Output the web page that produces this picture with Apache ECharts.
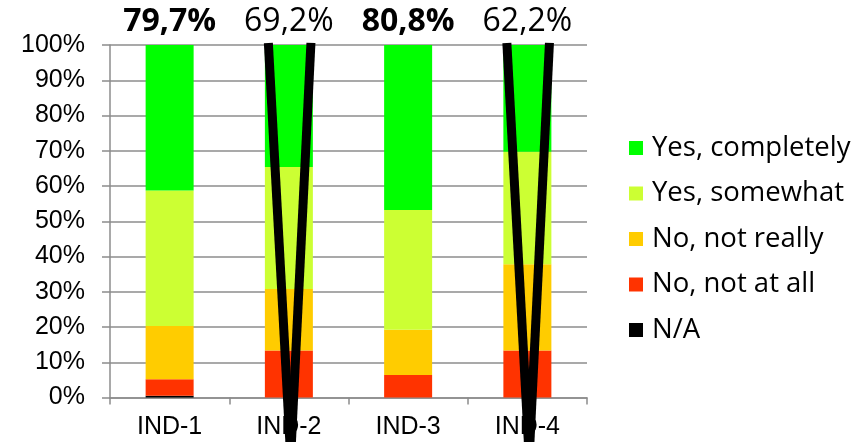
<!DOCTYPE html>
<html>
<head>
<meta charset="utf-8">
<script src="https://cdn.jsdelivr.net/npm/echarts@6/dist/echarts.min.js"></script>
<style>
  html, body { margin: 0; padding: 0; background: #fff; }
  #chart { width: 867px; height: 442px; }
</style>
</head>
<body>
<div id="chart"></div>
<script>
// ---- data ----
const categories = ['IND-1', 'IND-2', 'IND-3', 'IND-4'];
const naValues        = [0.5, 0, 0, 0];
const notAtAllValues  = [4.7, 13.3, 6.4, 13.3];
const notReallyValues = [15.1, 17.5, 12.8, 24.5];
const somewhatValues  = [38.4, 34.6, 34.0, 31.9];
const completelyValues= [41.3, 34.6, 46.8, 30.3];
const yesShareLabels  = ['79,7%', '69,2%', '80,8%', '62,2%'];
const yesShareBold    = [true, false, true, false];
const crossedOut      = ['IND-2', 'IND-4'];
const yTickValues     = [0, 10, 20, 30, 40, 50, 60, 70, 80, 90, 100];
const legendOrder     = ['Yes, completely', 'Yes, somewhat', 'No, not really', 'No, not at all', 'N/A'];

const chart = echarts.init(document.getElementById('chart'), null, { renderer: 'canvas' });

const gridColor = '#8c8c8c';
const barW = 48;

function barSeries(name, data, color, extra) {
  return Object.assign({
    name: name,
    type: 'bar',
    stack: 'total',
    data: data,
    barWidth: barW,
    itemStyle: { color: color },
    emphasis: { disabled: true },
    animation: false
  }, extra || {});
}

const option = {
  animation: false,
  grid: { left: 110, right: 280, top: 45, bottom: 44.5, containLabel: false },
  legend: {
    orient: 'vertical',
    left: 629,
    top: 134,
    padding: 0,
    itemWidth: 14,
    itemHeight: 14,
    itemGap: 17.5,
    icon: 'rect',
    data: legendOrder,
    selectedMode: false,
    textStyle: {
      fontFamily: 'Open Sans',
      fontSize: 27.5,
      lineHeight: 28,
      color: '#000',
      padding: [0, 0, 0, 4]
    }
  },
  xAxis: {
    type: 'category',
    data: categories,
    boundaryGap: true,
    axisLine: { show: true, lineStyle: { color: gridColor, width: 1.5 } },
    axisTick: { show: true, length: 7, alignWithLabel: false, lineStyle: { color: gridColor, width: 1.5 } },
    axisLabel: { margin: 17, fontFamily: 'Liberation Sans', fontSize: 25, color: '#000' },
    splitLine: { show: false }
  },
  yAxis: {
    type: 'value',
    min: 0,
    max: 100,
    interval: 10,
    axisLine: { show: true, lineStyle: { color: gridColor, width: 1.5 } },
    axisTick: { show: true, length: 8, lineStyle: { color: gridColor, width: 1.5 } },
    axisLabel: {
      margin: 25,
      fontFamily: 'Liberation Sans',
      fontSize: 25,
      color: '#000',
      formatter: function (v) { return yTickValues.indexOf(v) >= 0 ? v + '%' : ''; }
    },
    splitLine: { show: true, lineStyle: { color: gridColor, width: 1.5 } }
  },
  series: [
    barSeries('N/A', naValues, '#000000'),
    barSeries('No, not at all', notAtAllValues, '#FF3300'),
    barSeries('No, not really', notReallyValues, '#FFCC00'),
    barSeries('Yes, somewhat', somewhatValues, '#CCFF33'),
    barSeries('Yes, completely', completelyValues, '#00FF00', {
      label: {
        show: true,
        position: 'top',
        distance: 7,
        formatter: function (p) {
          const t = yesShareLabels[p.dataIndex];
          return yesShareBold[p.dataIndex] ? '{b|' + t + '}' : '{n|' + t + '}';
        },
        rich: {
          b: { fontFamily: 'Open Sans', fontSize: 32, fontWeight: 'bold', color: '#000' },
          n: { fontFamily: 'Open Sans', fontSize: 32, fontWeight: 'normal', color: '#000' }
        }
      }
    }),
    {
      name: 'crossout',
      type: 'custom',
      z: 10,
      clip: false,
      silent: true,
      data: crossedOut.map(function (c) { return [categories.indexOf(c)]; }),
      renderItem: function (params, api) {
        const idx = api.value(0);
        const center = api.coord([idx, 0])[0];
        const band = api.size([1, 0])[0];
        const yTop = api.coord([idx, 100.6])[1];
        const yBot = api.coord([idx, -15])[1];
        const lw = 9;
        return {
          type: 'group',
          children: [
            { type: 'line', shape: { x1: center - 0.172 * band, y1: yTop, x2: center + 0.012 * band, y2: yBot },
              style: { stroke: '#000', lineWidth: lw } },
            { type: 'line', shape: { x1: center + 0.185 * band, y1: yTop, x2: center + 0.018 * band, y2: yBot },
              style: { stroke: '#000', lineWidth: lw } }
          ]
        };
      }
    }
  ]
};

chart.setOption(option);
</script>
</body>
</html>
